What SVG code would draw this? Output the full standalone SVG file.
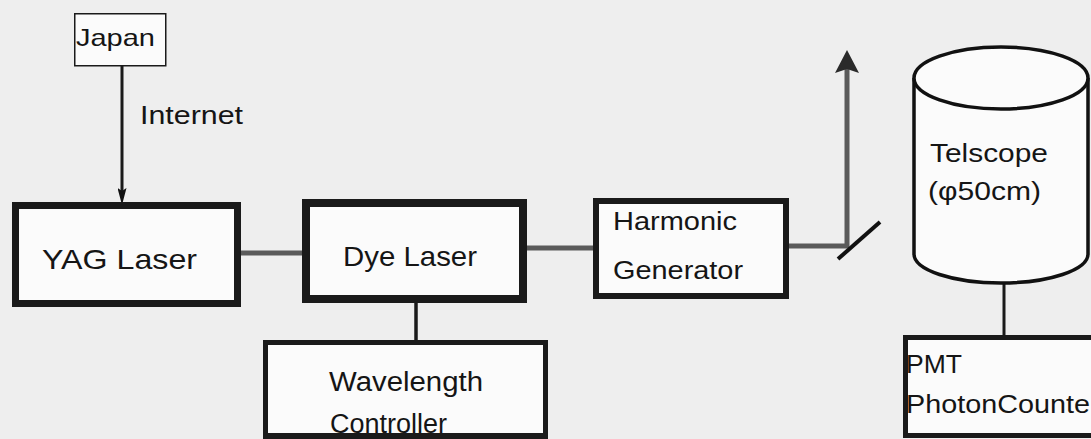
<svg xmlns="http://www.w3.org/2000/svg" width="1091" height="439" viewBox="0 0 1091 439">
<style>
text{font-family:"Liberation Sans",Arial,sans-serif;fill:#151515}
.box{fill:#fbfbfb;stroke:#1a1a1a}
.edge{fill:none;stroke:#1a1a1a}
.beam{fill:none;stroke:#5a5a5a;stroke-width:5}
</style>
<defs>
<marker id="ahBlack" markerUnits="userSpaceOnUse" viewBox="0 0 17 9" refX="7" refY="4.5" markerWidth="17" markerHeight="9" orient="auto">
<path d="M0,0 L17,4.5 L0,9 L3,4.5 z" fill="#111"/>
</marker>
<marker id="ahGray" markerUnits="userSpaceOnUse" viewBox="0 0 23 24" refX="11" refY="12" markerWidth="23" markerHeight="24" orient="auto">
<path d="M0,0 L23,12 L0,24 L4,12 z" fill="#2a2a2a"/>
</marker>
</defs>
<rect x="0" y="0" width="1091" height="439" fill="#eeeeee"/>
<g id="connectors">
<line class="edge" x1="122" y1="66" x2="122" y2="195" stroke-width="3" marker-end="url(#ahBlack)"/>
<line class="beam" x1="240" y1="253" x2="303" y2="253"/>
<line class="beam" x1="526" y1="248" x2="594" y2="248"/>
<line class="beam" x1="788" y1="246" x2="847" y2="246"/>
<line class="beam" x1="847" y1="248" x2="847" y2="62" marker-end="url(#ahGray)"/>
<line class="edge" x1="416" y1="303" x2="416" y2="341" stroke-width="3.5"/>
<line class="edge" x1="1004" y1="283" x2="1004" y2="336" stroke-width="3"/>
</g>
<g id="mirror">
<line x1="838" y1="259" x2="880" y2="222" stroke="#111" stroke-width="4"/>
</g>
<g id="japan">
<rect class="box" x="74.75" y="13.75" width="91" height="52" stroke-width="1.5"/>
<text x="76" y="46" font-size="24" textLength="79" lengthAdjust="spacingAndGlyphs">Japan</text>
</g>
<g id="internet-label">
<text x="140" y="124" font-size="26" textLength="103" lengthAdjust="spacingAndGlyphs">Internet</text>
</g>
<g id="yag">
<rect class="box" x="15.5" y="205.5" width="222" height="98" stroke-width="7"/>
<text x="42" y="269" font-size="28" textLength="155" lengthAdjust="spacingAndGlyphs">YAG Laser</text>
</g>
<g id="dye">
<rect class="box" x="306" y="203" width="217" height="96" stroke-width="8"/>
<text x="343" y="266" font-size="28" textLength="134" lengthAdjust="spacingAndGlyphs">Dye Laser</text>
</g>
<g id="harmonic">
<rect class="box" x="596" y="201" width="190" height="95" stroke-width="6"/>
<text x="613" y="230" font-size="25" textLength="124" lengthAdjust="spacingAndGlyphs">Harmonic</text>
<text x="613" y="279" font-size="25" textLength="130" lengthAdjust="spacingAndGlyphs">Generator</text>
</g>
<g id="wavelength">
<rect class="box" x="265.5" y="342.5" width="280" height="93" stroke-width="5"/>
<text x="329" y="391" font-size="27" textLength="154" lengthAdjust="spacingAndGlyphs">Wavelength</text>
<text x="330" y="433" font-size="27" textLength="117" lengthAdjust="spacingAndGlyphs">Controller</text>
<line x1="263" y1="436.5" x2="548" y2="436.5" stroke="#1a1a1a" stroke-width="5"/>
</g>
<g id="telescope">
<path d="M914,78 L914,254 A87,29 0 0 0 1088,254 L1088,78" fill="#fbfbfb" stroke="#111" stroke-width="3.5"/>
<ellipse cx="1001" cy="78" rx="87" ry="31" fill="#fbfbfb" stroke="#111" stroke-width="3.5"/>
<text x="930" y="162" font-size="26" textLength="118" lengthAdjust="spacingAndGlyphs">Telscope</text>
<text x="928" y="200" font-size="26" textLength="113" lengthAdjust="spacingAndGlyphs">(φ50cm)</text>
</g>
<g id="pmt">
<rect class="box" x="905.5" y="337.5" width="200" height="98" stroke-width="5"/>
<text x="906" y="373" font-size="26" textLength="56" lengthAdjust="spacingAndGlyphs">PMT</text>
<text x="906" y="413" font-size="26" textLength="184" lengthAdjust="spacingAndGlyphs">PhotonCounte</text>
</g>
</svg>
